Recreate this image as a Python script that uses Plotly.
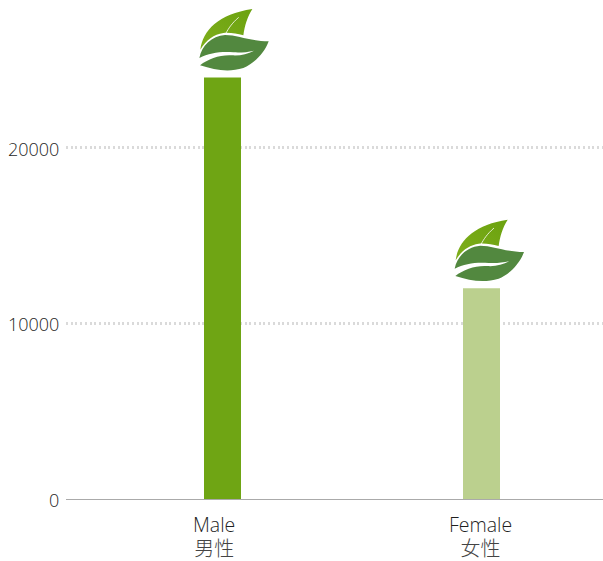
import base64
import plotly.graph_objects as go

# Chart data
categories = ["Male", "Female"]
categories_zh = ["男性", "女性"]
values = [24000, 12000]
bar_colors = ["#6fa514", "#bbd08e"]
y_ticks = [0, 10000, 20000]
bar_slots = [0, 1]
label_slots = [-0.033, 0.998]

# Leaf emblem sitting on top of each bar
LEAF_SVG = """<svg xmlns="http://www.w3.org/2000/svg" viewBox="0 0 280 216" width="280" height="216">
<defs><linearGradient id="g" x1="0" y1="1" x2="1" y2="0">
<stop offset="0" stop-color="#7fae1c"/><stop offset="1" stop-color="#6ba20f"/></linearGradient></defs>
<path fill="url(#g)" d="M31 147 C38 90 85 40 187 25 C172 48 164 75 160 104 C140 100 122 95 100 97 C72 101 48 118 31 147 Z"/>
<path fill="none" stroke="#ffffff" stroke-width="2.4" d="M107 99 C115 84 125 68 146 50"/>
<path fill="#52883f" d="M28 172 C35 135 65 106 105 103 C145 103 180 122 236 122 C222 160 190 190 160 202 C115 216 75 208 30 194 C55 174 90 162 125 164 C150 166 172 160 192 150 C170 155 150 156 130 155 C95 152 58 156 28 172 Z"/>
</svg>"""
leaf_uri = "data:image/svg+xml;base64," + base64.b64encode(LEAF_SVG.encode()).decode()

PX_X = 1 / 259        # x units per pixel
PX_Y = 20000 / 351.5  # y units per pixel
leaf_offsets = [14.2, 10.5]

fig = go.Figure(
    go.Bar(
        x=bar_slots,
        y=values,
        width=37 * PX_X,
        marker=dict(color=bar_colors, line=dict(width=0)),
        hoverinfo="skip",
    )
)

for slot, value, dx in zip(bar_slots, values, leaf_offsets):
    fig.add_layout_image(
        source=leaf_uri,
        xref="x",
        yref="y",
        x=slot + dx * PX_X,
        y=value + 5 * PX_Y,
        sizex=280 / 3 * PX_X,
        sizey=72 * PX_Y,
        xanchor="center",
        yanchor="bottom",
        sizing="stretch",
        layer="above",
    )

# Category captions: English line above, Chinese line below
for slot, en, zh in zip(label_slots, categories, categories_zh):
    fig.add_annotation(
        x=slot, xref="x", y=0, yref="y", yshift=-37, showarrow=False,
        text=(
            f"<span style='font-size:19.5px;color:#1f1f1f'>{en}</span><br>"
            f"<span style='font-size:20px;color:#444444;font-family:\"Noto Sans CJK SC\"'>{zh}</span>"
        ),
        xanchor="center", yanchor="middle",
        font=dict(family="Open Sans", size=18.5, color="#1f1f1f", weight=300),
    )

# Value captions, right-aligned against the plot's left edge
for tick in y_ticks:
    fig.add_annotation(
        x=0, xref="paper", xanchor="right", xshift=-5, y=tick, yref="y", yshift=-1,
        yanchor="middle", showarrow=False, text=str(tick),
        font=dict(family="Open Sans", size=18, color="#1f1f1f", weight=300),
    )

fig.update_layout(
    width=603,
    height=561,
    autosize=False,
    margin=dict(l=66, r=0, t=0, b=61.5),
    paper_bgcolor="white",
    plot_bgcolor="white",
    showlegend=False,
    font=dict(family="Open Sans", size=18, color="#444444"),
    xaxis=dict(
        range=[-156.5 * PX_X, 1 + 121.5 * PX_X],
        showticklabels=False,
        ticks="",
        showgrid=False,
        zeroline=False,
        showline=False,
        fixedrange=True,
    ),
    yaxis=dict(
        range=[0, 499.5 * PX_Y],
        tickmode="array",
        tickvals=y_ticks,
        showticklabels=False,
        ticks="",
        showgrid=True,
        gridcolor="#dadada",
        gridwidth=2.5,
        griddash="2px,2.7px",
        zeroline=True,
        zerolinecolor="#aaaaaa",
        zerolinewidth=1,
        fixedrange=True,
    ),
)

fig.write_html("out.html", config={"displayModeBar": False})
